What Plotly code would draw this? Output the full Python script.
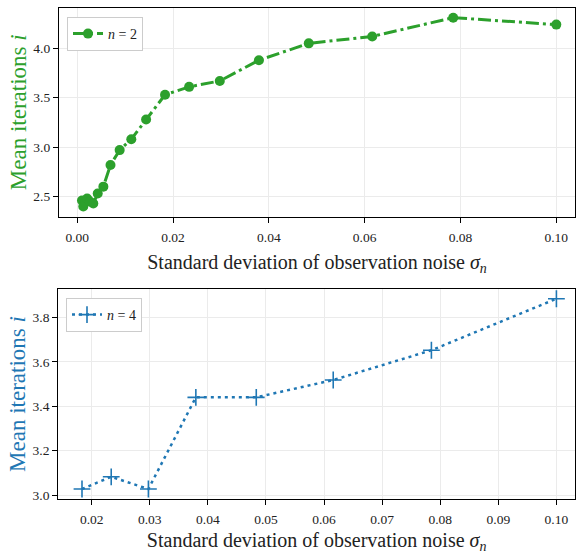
import plotly.graph_objects as go

# Data
sigma_top = [0.00100, 0.00127, 0.00162, 0.00207, 0.00264, 0.00336, 0.00428, 0.00546,
             0.00695, 0.00886, 0.01129, 0.01438, 0.01833, 0.02336, 0.02976, 0.03793,
             0.04833, 0.06158, 0.07848, 0.10000]
iters_n2 = [2.46, 2.40, 2.44, 2.48, 2.45, 2.43, 2.53, 2.60,
            2.82, 2.97, 3.08, 3.28, 3.53, 3.61, 3.67, 3.88,
            4.05, 4.12, 4.31, 4.24]

sigma_bottom = [0.01833, 0.02336, 0.02976, 0.03793, 0.04833, 0.06158, 0.07848, 0.10000]
iters_n4 = [3.027, 3.082, 3.027, 3.44, 3.44, 3.518, 3.652, 3.884]

top_xticks = [0.00, 0.02, 0.04, 0.06, 0.08, 0.10]
top_yticks = [2.5, 3.0, 3.5, 4.0]
bot_xticks = [0.02, 0.03, 0.04, 0.05, 0.06, 0.07, 0.08, 0.09, 0.10]
bot_yticks = [3.0, 3.2, 3.4, 3.6, 3.8]

GREEN = "#2ca02c"
BLUE = "#1f77b4"
FONT = "Liberation Serif"
W, H = 576, 554

fig = go.Figure()
fig.add_trace(go.Scatter(
    x=sigma_top, y=iters_n2, mode="lines+markers", name="<i>n</i> = 2",
    line=dict(color=GREEN, width=3, dash="13px,4px,3px,4px"),
    marker=dict(color=GREEN, size=10, symbol="circle"),
    xaxis="x", yaxis="y", legend="legend"))
fig.add_trace(go.Scatter(
    x=sigma_bottom, y=iters_n4, mode="lines+markers", name="<i>n</i> = 4",
    line=dict(color=BLUE, width=2.5, dash="3px,4px"),
    marker=dict(color=BLUE, size=12, symbol="cross-thin", line=dict(color=BLUE, width=1.6)),
    xaxis="x2", yaxis="y2", legend="legend2"))

def px_dom(a, b, total, flip=False):
    if flip:
        return [1 - b / total, 1 - a / total]
    return [a / total, b / total]

axis_common = dict(
    showline=True, linecolor="black", linewidth=1.3, mirror=True,
    ticks="outside", ticklen=5, tickcolor="black", tickwidth=1,
    showgrid=True, gridcolor="#ebebeb", gridwidth=1, zeroline=False,
    tickfont=dict(family=FONT, size=13.5, color="#222222"),
    automargin=False,
)

xtitle = "Standard deviation of observation noise <i>σ</i><sub><i>n</i></sub>"

fig.update_layout(
    width=W, height=H,
    margin=dict(l=0, r=0, t=0, b=0, autoexpand=False),
    paper_bgcolor="white", plot_bgcolor="white",
    font=dict(family=FONT, color="#222222"),
    xaxis=dict(**axis_common, domain=px_dom(59, 575, W), anchor="y",
               range=[-0.0038, 0.1039], tickvals=top_xticks,
               ticktext=[f"{v:.2f}" for v in top_xticks], ticklabelstandoff=3,
               title=dict(text=xtitle, font=dict(family=FONT, size=20, color="#222222"), standoff=10)),
    yaxis=dict(**axis_common, domain=px_dom(7.5, 217, H, flip=True), anchor="x",
               range=[2.293, 4.413], tickvals=top_yticks,
               ticktext=[f"{v:.1f}" for v in top_yticks],
               title=dict(text="Mean iterations <i>i</i>", font=dict(family=FONT, size=23, color=GREEN), standoff=0)),
    xaxis2=dict(**axis_common, domain=px_dom(58.3, 575, W), anchor="y2",
                range=[0.01425, 0.1032], tickvals=bot_xticks,
                ticktext=[f"{v:.2f}" for v in bot_xticks], ticklabelstandoff=3,
                title=dict(text=xtitle, font=dict(family=FONT, size=20, color="#222222"), standoff=12)),
    yaxis2=dict(**axis_common, domain=px_dom(289, 499, H, flip=True), anchor="x2",
                range=[2.982, 3.928], tickvals=bot_yticks,
                ticktext=[f"{v:.1f}" for v in bot_yticks],
                title=dict(text="Mean iterations <i>i</i>", font=dict(family=FONT, size=23, color=BLUE), standoff=0)),
    legend=dict(x=67 / W, y=1 - 17 / H, xanchor="left", yanchor="top",
                bgcolor="white", bordercolor="#cccccc", borderwidth=1,
                font=dict(family=FONT, size=14, color="#222222"), itemwidth=30),
    legend2=dict(x=66 / W, y=1 - 298 / H, xanchor="left", yanchor="top",
                 bgcolor="white", bordercolor="#cccccc", borderwidth=1,
                 font=dict(family=FONT, size=14, color="#222222"), itemwidth=30),
    showlegend=True,
)

fig.write_html("out.html", config={"displayModeBar": False},
               post_script="document.body.style.margin='0px';document.body.style.padding='0px';")
